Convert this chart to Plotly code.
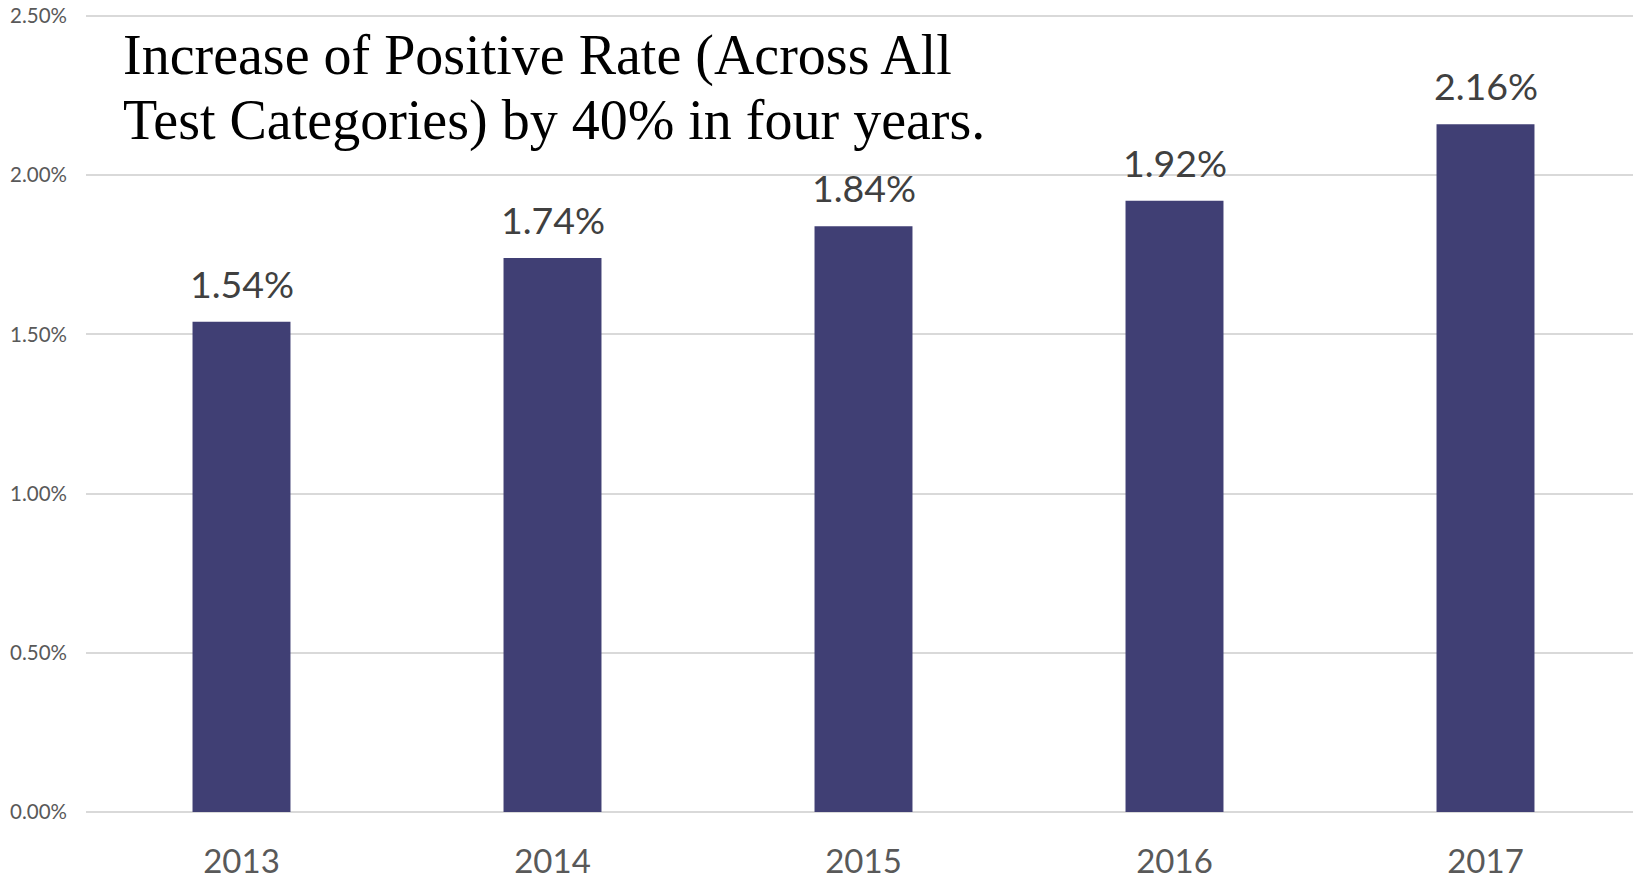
import plotly.graph_objects as go

years = ["2013", "2014", "2015", "2016", "2017"]
positive_rate = [1.54, 1.74, 1.84, 1.92, 2.16]
y_ticks = [0.0, 0.5, 1.0, 1.5, 2.0, 2.5]
title_lines = ["Increase of Positive Rate (Across All",
               "Test Categories) by 40% in four years."]

BAR = "#403F74"
GRID = "#D9D9D9"
TICK = "#595959"
LABEL = "#404040"

fig = go.Figure()
fig.add_trace(go.Bar(
    x=years, y=positive_rate,
    marker=dict(color=BAR, line=dict(width=0)),
    hoverinfo="skip",
))

for i, v in enumerate(positive_rate):
    fig.add_annotation(
        x=i, y=v, xref="x", yref="y",
        text=f"{v:.2f}%", showarrow=False,
        yanchor="bottom", yshift=14,
        font=dict(family="Lato", size=37.5, color=LABEL),
    )

title_y = [0.9485, 0.8662]
for line, ty in zip(title_lines, title_y):
    fig.add_annotation(
        x=0.0228, y=ty, xref="paper", yref="paper",
        text=line, showarrow=False,
        xanchor="left", yanchor="middle",
        font=dict(family="Liberation Serif", size=56, color="#000000"),
    )

fig.update_layout(
    width=1633, height=871,
    margin=dict(l=78, r=0, t=6, b=67, autoexpand=False),
    paper_bgcolor="white", plot_bgcolor="white",
    bargap=0.685, showlegend=False,
    xaxis=dict(
        type="category", range=[-0.5, len(years) - 0.5],
        showgrid=False, showline=False, zeroline=False,
        ticks="", automargin=False, ticklabelstandoff=27,
        tickfont=dict(family="Lato", size=33, color=TICK),
    ),
    yaxis=dict(
        range=[0, 2.5063], tickvals=y_ticks,
        ticktext=[f"{t:.2f}%" for t in y_ticks],
        showgrid=True, gridcolor=GRID, gridwidth=2,
        zeroline=True, zerolinecolor=GRID, zerolinewidth=2,
        showline=False, ticks="", automargin=False, ticklabelstandoff=18,
        ticklabeloverflow="allow",
        tickfont=dict(family="Lato", size=20.5, color=TICK),
    ),
)

fig.write_html("out.html")
